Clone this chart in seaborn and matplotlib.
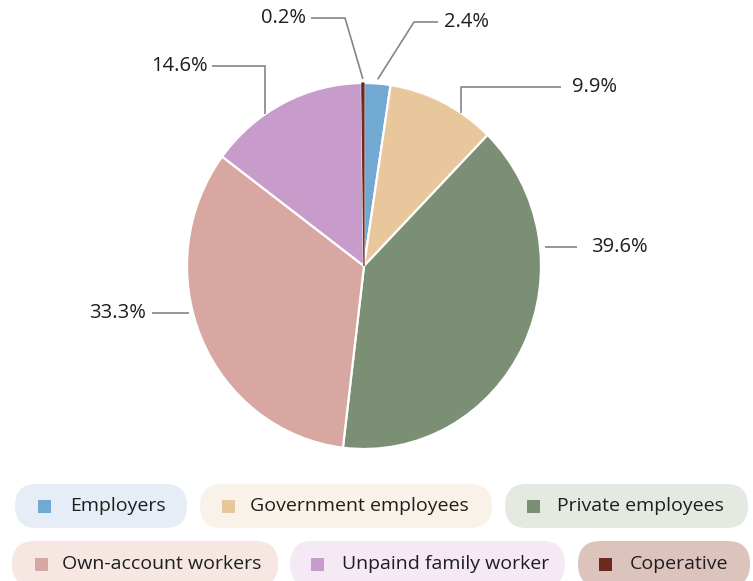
import numpy as np
import seaborn as sns
import matplotlib
matplotlib.use("Agg")
from matplotlib import pyplot as plt
from matplotlib.patches import FancyBboxPatch, Rectangle

categories = ["Employers", "Government employees", "Private employees",
              "Own-account workers", "Unpaind family worker", "Coperative"]
shares = [2.4, 9.9, 39.6, 33.3, 14.6, 0.2]
colors = ["#72a9d2", "#e8c79c", "#7b8f75", "#d9a7a1", "#c79ccb", "#6b2a1e"]
pill_colors = ["#e6edf6", "#f9f2e8", "#e4e9e1", "#f6e7e3", "#f4e9f5", "#dcc4bd"]

W, H = 753, 581
K = 177 / 183  # the reference pie is a little taller than wide


def py(y):
    # pixel row (from top) -> data y
    return (H - y) * K


def main():
    sns.set_theme(style="white")
    plt.rcParams["font.family"] = ["Open Sans", "DejaVu Sans"]
    fig = plt.figure(figsize=(W / 100, H / 100), dpi=100)
    ax = fig.add_axes([0, 0, 1, 1])

    cx, cy, r = 364, py(266), 177
    wedges, _ = ax.pie(shares, colors=colors, startangle=90, counterclock=False,
                       center=(cx, cy), radius=r, frame=True,
                       wedgeprops=dict(edgecolor="white", linewidth=1.6))
    # tiny slice would vanish under the white edges
    wedges[-1].set_edgecolor(colors[-1])
    wedges[-1].set_linewidth(0.9)
    ax.set_xlim(0, W)
    ax.set_ylim(0, H * K)
    ax.set_aspect("auto")
    ax.axis("off")

    # label layout: (elbow x, elbow y, line end x, text x, text y, ha, anchor kind)
    layout = [
        (414, 22, 438, 444, 22, "left", "mid"),
        (461, 87, 561, 572, 87, "left", "down"),
        (545, 247, 577, 591, 247, "left", "flat"),
        (189, 313, 152, 146, 313, "right", "flat"),
        (265, 66, 212, 208, 66, "right", "down"),
        (345, 18, 311, 306, 18, "right", "mid"),
    ]
    for w, val, (ex, ey, lx, tx, ty, ha, kind) in zip(wedges, shares, layout):
        if kind == "mid":
            ang = np.deg2rad((w.theta1 + w.theta2) / 2)
            x0 = cx + (r + 4) * np.cos(ang)
            y0 = cy + (r + 4) * np.sin(ang)
        elif kind == "down":
            x0 = ex
            y0 = cy + np.sqrt(r ** 2 - (ex - cx) ** 2)
        else:
            x0, y0 = ex, py(ey)
        ax.plot([x0, ex, lx], [y0, py(ey), py(ey)], color="#858585", lw=1.2,
                solid_capstyle="butt")
        ax.text(tx, py(ty), f"{val}%", ha=ha, va="center", fontsize=14.5, color="#1e1e1e")

    # legend pills
    pills = [
        (15, 484, 187, 528, 38, 70),
        (200, 484, 492, 528, 222, 250),
        (505, 484, 748, 528, 527, 557),
        (12, 541, 278, 587, 35, 62),
        (290, 541, 565, 587, 311, 342),
        (578, 541, 750, 587, 599, 630),
    ]
    for name, c, pc, (x0, y0, x1, y1, sx, tx) in zip(categories, colors, pill_colors, pills):
        h = (y1 - y0) * K
        box = FancyBboxPatch((x0, py(y1)), x1 - x0, h,
                             boxstyle=f"round,pad=0,rounding_size={h / 2}",
                             facecolor=pc, edgecolor="none", clip_on=False)
        ax.add_patch(box)
        ymid = py((y0 + y1) / 2)
        ax.add_patch(Rectangle((sx, ymid - 6.5 * K), 13, 13 * K, facecolor=c, edgecolor="none"))
        ax.text(tx, ymid, name, ha="left", va="center", fontsize=14, color="#1e1e1e")

    fig.savefig("out.png", dpi=100)


if __name__ == "__main__":
    main()
